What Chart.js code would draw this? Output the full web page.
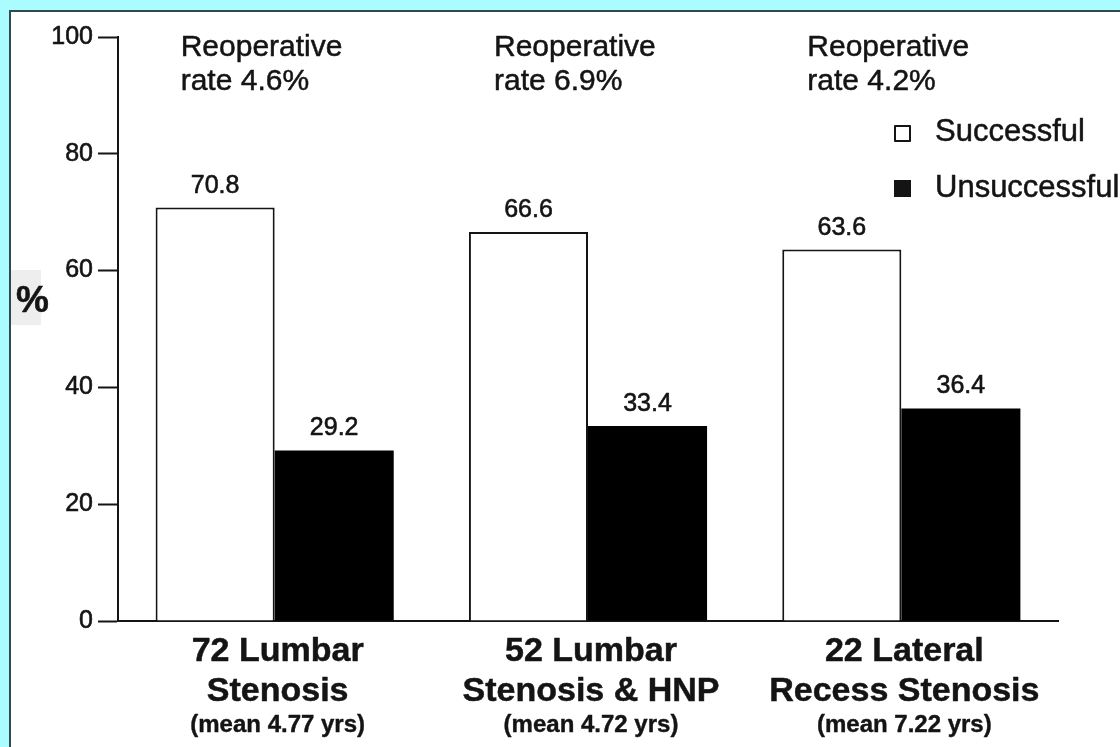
<!DOCTYPE html>
<html>
<head>
<meta charset="utf-8">
<script src="https://cdn.jsdelivr.net/npm/chart.js@4"></script>
<style>
  html, body { margin: 0; padding: 0; background: #aafcfe; }
  #wrap { width: 1120px; height: 747px; position: relative; }
</style>
</head>
<body>
<div id="wrap"><canvas id="chart" width="1120" height="747"></canvas></div>
<script>
// data
const categories = ['72 Lumbar|Stenosis', '52 Lumbar|Stenosis & HNP', '22 Lateral|Recess Stenosis'];
const meanYears = ['(mean 4.77 yrs)', '(mean 4.72 yrs)', '(mean 7.22 yrs)'];
const successful = [70.8, 66.6, 63.6];
const unsuccessful = [29.2, 33.4, 36.4];
const reopRates = ['4.6%', '6.9%', '4.2%'];
const yTicks = [0, 20, 40, 60, 80, 100];

const FONT = "'Liberation Sans', Arial, Helvetica, sans-serif";
const INK = '#141414';

// draw text a little heavier, like the scanned print
function inkText(c, str, x, y, w) {
    c.fillText(str, x, y);
    c.lineWidth = w;
    c.strokeText(str, x, y);
}

// page frame + annotations
const decorPlugin = {
    id: 'decor',
    beforeDraw(chart) {
        const c = chart.ctx;
        c.save();
        c.fillStyle = '#aafcfe';
        c.fillRect(0, 0, chart.width, chart.height);
        c.fillStyle = '#ffffff';
        c.fillRect(9, 10, chart.width - 9, chart.height - 10);
        c.strokeStyle = '#2b4d50';
        c.lineWidth = 2;
        c.beginPath();
        c.moveTo(10, chart.height);
        c.lineTo(10, 11);
        c.lineTo(chart.width, 11);
        c.stroke();
        // faint grey patch behind the % sign (scan)
        c.fillStyle = '#eeeeee';
        c.fillRect(11, 270, 30, 55);
        c.restore();
    },
    afterDatasetsDraw(chart) {
        const c = chart.ctx;
        const x = chart.scales.x;
        c.save();
        c.fillStyle = INK;
        c.strokeStyle = INK;
        c.lineJoin = 'round';

        // value labels over bars
        c.font = '25px ' + FONT;
        c.textAlign = 'center';
        c.textBaseline = 'alphabetic';
        chart.data.datasets.forEach((ds, i) => {
            chart.getDatasetMeta(i).data.forEach((bar, j) => {
                inkText(c, ds.data[j].toFixed(1), bar.x, bar.y - 15, 0.6);
            });
        });

        // reoperative rate notes
        c.font = '30px ' + FONT;
        c.textAlign = 'left';
        categories.forEach((cat, j) => {
            const cx = x.getPixelForValue(j) - 94;
            inkText(c, 'Reoperative', cx, 56, 0.5);
            inkText(c, 'rate ' + reopRates[j], cx, 90, 0.5);
        });

        // category labels
        c.textAlign = 'center';
        categories.forEach((cat, j) => {
            const cx = x.getPixelForValue(j) + 3;
            const lines = cat.split('|');
            c.font = 'bold 34px ' + FONT;
            inkText(c, lines[0], cx, 661, 0.5);
            inkText(c, lines[1], cx, 701, 0.5);
            c.font = 'bold 24px ' + FONT;
            inkText(c, meanYears[j], cx, 732, 0.4);
        });

        // y title
        c.font = 'bold 37px ' + FONT;
        c.textAlign = 'left';
        inkText(c, '%', 16, 312, 0.5);

        // legend
        c.lineWidth = 2;
        c.fillStyle = '#ffffff';
        c.fillRect(895, 126, 15, 15);
        c.strokeRect(895, 126, 15, 15);
        c.fillStyle = INK;
        c.fillRect(894, 180, 17, 17);
        c.font = '31px ' + FONT;
        inkText(c, 'Successful', 935, 141, 0.5);
        inkText(c, 'Unsuccessful', 935, 197, 0.5);
        c.restore();
    }
};

new Chart(document.getElementById('chart'), {
    type: 'bar',
    data: {
        labels: categories,
        datasets: [{
            label: 'Successful',
            data: successful,
            backgroundColor: '#ffffff',
            borderColor: INK,
            borderWidth: 2,
            borderSkipped: 'bottom'
        }, {
            label: 'Unsuccessful',
            data: unsuccessful,
            backgroundColor: '#000000',
            borderColor: '#000000',
            borderWidth: 0
        }]
    },
    options: {
        responsive: false,
        animation: false,
        categoryPercentage: 0.76,
        barPercentage: 1.0,
        layout: { padding: { left: 0, top: 37, right: 62, bottom: 0 } },
        plugins: {
            legend: { display: false },
            tooltip: { enabled: false }
        },
        scales: {
            x: {
                grid: { display: false },
                border: { display: true, color: INK, width: 2 },
                ticks: { display: false },
                afterFit(scale) { scale.height = 126; }
            },
            y: {
                min: 0,
                max: 100,
                afterBuildTicks(scale) {
                    scale.ticks = yTicks.map(v => ({ value: v }));
                },
                grid: {
                    drawOnChartArea: false,
                    drawTicks: true,
                    tickLength: 20,
                    tickWidth: 2,
                    tickColor: INK
                },
                border: { display: true, color: INK, width: 2 },
                ticks: {
                    color: INK,
                    padding: 5,
                    textStrokeColor: INK,
                    textStrokeWidth: 0.6,
                    font: { family: FONT, size: 25 }
                },
                afterFit(scale) { scale.width = 118; }
            }
        }
    },
    plugins: [decorPlugin]
});
</script>
</body>
</html>
